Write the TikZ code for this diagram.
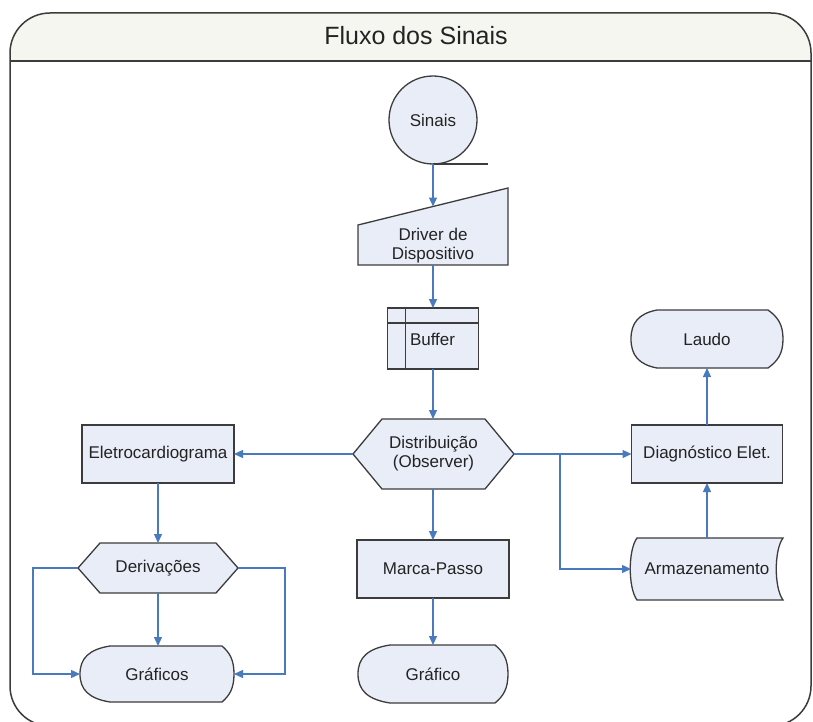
\documentclass[tikz,border=0pt]{standalone}
\usepackage{fontspec}
\setmainfont{Liberation Sans}
\usetikzlibrary{arrows.meta}

\pgfdeclarelayer{frame}
\pgfdeclarelayer{shapes}
\pgfsetlayers{frame,shapes,main}

\definecolor{nodefill}{RGB}{232,237,247}
\definecolor{edge}{RGB}{60,60,60}
\definecolor{flow}{RGB}{74,122,190}
\definecolor{header}{RGB}{246,246,241}
\definecolor{ink}{RGB}{35,35,35}

\tikzset{
  outline/.style={draw=edge, fill=nodefill, line width=1.3pt, line join=miter},
  shapebox/.style={inner sep=0pt, outer sep=0pt, text=ink,
    font=\fontsize{17}{20}\selectfont, align=center},
  procbox/.style={shapebox, draw=edge, fill=nodefill, line width=1.3pt},
  flowline/.style={draw=flow, line width=1.3pt},
  flowarrow/.style={flowline, -{Triangle[length=9pt,width=8pt]}},
}

% display symbol: left, right, top, bottom, left inset, right inset
\newcommand{\dispoutline}[6]{%
  \path[outline] ({#1+#5},#3) -- ({#2-#6},#3)
    .. controls ({#2-0.35*#6},{#3+0.12*(#4-#3)}) and (#2,{(#3+#4)/2-0.25*(#4-#3)}) .. (#2,{(#3+#4)/2})
    .. controls (#2,{(#3+#4)/2+0.25*(#4-#3)}) and ({#2-0.35*#6},{#4-0.12*(#4-#3)}) .. ({#2-#6},#4)
    -- ({#1+#5},#4)
    .. controls ({#1+0.3*#5},{#4-0.06*(#4-#3)}) and (#1,{(#3+#4)/2+0.28*(#4-#3)}) .. (#1,{(#3+#4)/2})
    .. controls (#1,{(#3+#4)/2-0.28*(#4-#3)}) and ({#1+0.3*#5},{#3+0.06*(#4-#3)}) .. cycle;}

\begin{document}
\begin{tikzpicture}[x=1pt,y=-1pt]
\useasboundingbox (0,0) rectangle (813,722);

% ---- swimlane frame with title bar
\begin{pgfonlayer}{frame}
  \fill[white] (0,0) rectangle (813,722);
  \begin{scope}
    \clip[rounded corners=40pt] (10,13) rectangle (811,726);
    \fill[white] (10,13) rectangle (811,726);
    \fill[header] (10,13) rectangle (811,61);
  \end{scope}
  \draw[edge, line width=1.5pt, rounded corners=40pt] (10,13) rectangle (811,726);
  \draw[edge, line width=1.5pt] (10,61) -- (811,61);
\end{pgfonlayer}
\node[text=ink, font=\fontsize{25}{30}\selectfont] (title) at (416,36) {Fluxo dos Sinais};

% ---- nodes
\node[procbox, circle, minimum size=88pt] (sinais) at (433,120) {Sinais};
\draw[draw=edge, line width=1.3pt] (sinais.south) -- ++(55,0);

% manual input
\node[shapebox, minimum width=150pt, minimum height=77pt] (driver) at (433,226.5) {};
\begin{pgfonlayer}{shapes}
  \path[outline] (358,225) -- (508,188) -- (508,265) -- (358,265) -- cycle;
\end{pgfonlayer}
\node[shapebox] (driverlabel) at (433,246) {Driver de\\[-1pt]Dispositivo};
\coordinate (drvtop) at (433,206.5);

% internal storage
\node[procbox, minimum width=91pt, minimum height=61pt] (buffer) at (433,338.5) {};
\draw[edge, line width=1.3pt] ([xshift=18pt]buffer.north west) -- ([xshift=18pt]buffer.south west);
\draw[edge, line width=1.3pt] ([yshift=-15pt]buffer.north west) -- ([yshift=-15pt]buffer.north east);
\node[shapebox, anchor=west] (bufferlabel) at (410,339) {Buffer};

% preparation hexagons
\node[shapebox, minimum width=161pt, minimum height=70pt] (dist) at (433.5,454) {Distribuição\\[-1pt](Observer)};
\node[shapebox, minimum width=160pt, minimum height=50pt] (deriv) at (158,568) {Derivações};
\begin{pgfonlayer}{shapes}
  \path[outline] (353,454) -- (382,419) -- (485,419) -- (514,454) -- (485,489) -- (382,489) -- cycle;
  \path[outline] (78,568) -- (100,543) -- (216,543) -- (238,568) -- (216,593) -- (100,593) -- cycle;
\end{pgfonlayer}

% processes
\node[procbox, minimum width=152pt, minimum height=58pt] (ecg) at (158,454) {Eletrocardiograma};
\node[procbox, minimum width=151pt, minimum height=58pt] (diag) at (707,454) {Diagnóstico Elet.};
\node[procbox, minimum width=152pt, minimum height=58pt] (marca) at (433,569) {Marca-Passo};

% displays
\node[shapebox, minimum width=154pt, minimum height=56pt] (graficos) at (157,674) {Gráficos};
\node[shapebox, minimum width=150pt, minimum height=58pt] (grafico) at (433,674) {Gráfico};
\node[shapebox, minimum width=152pt, minimum height=58pt] (laudo) at (707,339) {Laudo};
\begin{pgfonlayer}{shapes}
  \dispoutline{80}{234}{646}{702}{30}{12}
  \dispoutline{358}{508}{645}{703}{32}{13}
  \dispoutline{631}{783}{310}{368}{26}{15}
\end{pgfonlayer}

% stored data
\node[shapebox, minimum width=152pt, minimum height=62pt] (armaz) at (707,569) {Armazenamento};
\begin{pgfonlayer}{shapes}
  \path[outline] (637,538) -- (783,538) .. controls (774,550) and (774,588) .. (783,600)
    -- (637,600) .. controls (628,588) and (628,550) .. (637,538) -- cycle;
\end{pgfonlayer}

% ---- connectors
\draw[flowarrow] (sinais.south) -- (drvtop);
\draw[flowarrow] (driver.south) -- (driver.south |- buffer.north);
\draw[flowarrow] (buffer.south) -- (buffer.south |- dist.north);
\draw[flowarrow] (dist.west) -- (ecg.east);
\draw[flowarrow] (dist.east) -- (diag.west);
\coordinate (split) at (560,454);
\draw[flowarrow] (split) |- (armaz.west);
\draw[flowarrow] (buffer.south |- dist.south) -- (buffer.south |- marca.north);
\draw[flowarrow] (marca.south) -- (marca.south |- grafico.north);
\draw[flowarrow] (ecg.south) -- (ecg.south |- deriv.north);
\draw[flowarrow] (deriv.south) -- (deriv.south |- graficos.north);
\draw[flowarrow] (deriv.west) -- ++(-45,0) |- (graficos.west);
\draw[flowarrow] (deriv.east) -- ++(47,0) |- (graficos.east);
\draw[flowarrow] (diag.north) -- (diag.north |- laudo.south);
\draw[flowarrow] (armaz.north) -- (armaz.north |- diag.south);

\end{tikzpicture}
\end{document}
